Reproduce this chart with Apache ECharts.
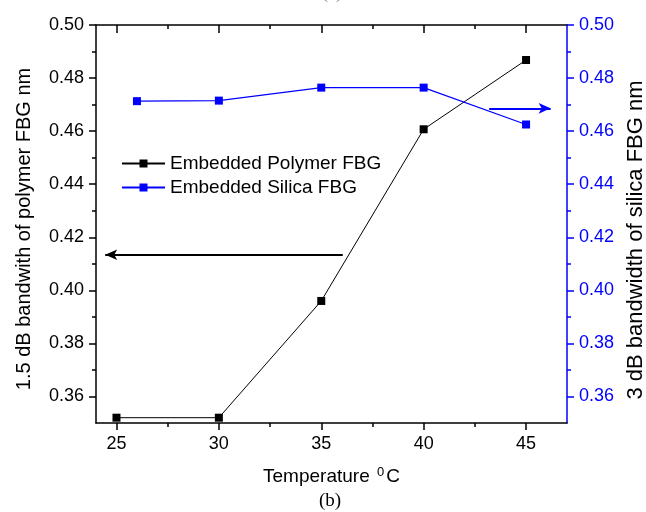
<!DOCTYPE html>
<html>
<head>
<meta charset="utf-8">
<script src="https://cdn.jsdelivr.net/npm/echarts@6/dist/echarts.min.js"></script>
<style>
  html, body { margin: 0; padding: 0; background: #fff; }
  #chart { width: 646px; height: 512px; }
</style>
</head>
<body>
<div id="chart"></div>
<script>
// Temperatures (°C) and measured bandwidths (nm)
const polymerTemps = [25, 30, 35, 40, 45];
const polymerWidth = [0.352, 0.352, 0.396, 0.4607, 0.4868];
const silicaTemps = [26, 30, 35, 40, 45];
const silicaWidth = [0.4713, 0.4715, 0.4764, 0.4764, 0.4625];

// Tick positions
const xMajor = [25, 30, 35, 40, 45];
const xMinor = [27.5, 32.5, 37.5, 42.5];
const yMajor = [0.36, 0.38, 0.40, 0.42, 0.44, 0.46, 0.48, 0.50];
const yMinor = [0.37, 0.39, 0.41, 0.43, 0.45, 0.47, 0.49];

// Arrows pointing each curve to its axis: [x0, x1, y]
const polymerArrow = [36.05, 24.45, 0.4134];
const silicaArrow = [43.2, 46.2, 0.4686];

const FONT = 'Liberation Sans, Arial, sans-serif';
const BLUE = '#0000ff';
const X_RANGE = { min: 24, max: 47 };
const Y_RANGE = { min: 0.35, max: 0.50 };

function pairs(xs, ys) { return xs.map((x, i) => [x, ys[i]]); }

function xAxisDef(position, ticks, len, inside, withLabels, withLine) {
  return {
    type: 'value', position, ...X_RANGE,
    axisLine: { show: withLine, onZero: false, lineStyle: { color: '#000', width: 1.5 } },
    axisTick: { show: true, inside, length: len, customValues: ticks, lineStyle: { color: '#000', width: 1.5 } },
    axisLabel: withLabels
      ? { show: true, customValues: ticks, fontSize: 18, fontFamily: FONT, color: '#000', margin: 12 }
      : { show: false },
    splitLine: { show: false }
  };
}

function yAxisDef(position, ticks, len, color, withLabels, withLine) {
  return {
    type: 'value', position, ...Y_RANGE,
    axisLine: { show: withLine, onZero: false, lineStyle: { color, width: 1.5 } },
    axisTick: { show: true, inside: false, length: len, customValues: ticks, lineStyle: { color, width: 1.5 } },
    axisLabel: withLabels
      ? { show: true, customValues: ticks, fontSize: 18, fontFamily: FONT, color, margin: 12,
          formatter: v => v.toFixed(2) }
      : { show: false },
    splitLine: { show: false }
  };
}

const xBottom = xAxisDef('bottom', xMajor, 7, false, true, true);
xBottom.name = '{a|Temperature }{s|0}{a|C}';
xBottom.nameLocation = 'middle';
xBottom.nameGap = 43;
xBottom.nameTextStyle = {
  rich: {
    a: { fontSize: 19, fontFamily: FONT, color: '#000', lineHeight: 22 },
    s: { fontSize: 13, fontFamily: FONT, color: '#000', lineHeight: 22, verticalAlign: 'top', padding: [0, 2, 9, 2] }
  }
};

const yLeft = yAxisDef('left', yMajor, 7, '#000', true, true);
yLeft.name = '1.5 dB bandwith of polymer FBG nm';
yLeft.nameLocation = 'middle';
yLeft.nameRotate = 90;
yLeft.nameGap = 62;
yLeft.nameTextStyle = { fontSize: 20, fontFamily: FONT, color: '#000', padding: [0, 10, 0, 0] };

const yRight = yAxisDef('right', yMajor, 7, BLUE, true, true);
yRight.name = '3 dB bandwidth of silica FBG nm';
yRight.nameLocation = 'middle';
yRight.nameRotate = 90;
yRight.nameGap = 55;
yRight.nameTextStyle = { fontSize: 22, fontFamily: FONT, color: '#000', padding: [0, 32, 0, 0] };

function arrowLine(a, color) {
  return {
    silent: true,
    symbol: ['none', 'arrow'],
    symbolSize: [8, 12],
    label: { show: false },
    lineStyle: { color, width: 2, type: 'solid' },
    data: [[{ coord: [a[0], a[2]] }, { coord: [a[1], a[2]] }]]
  };
}

const option = {
  animation: false,
  backgroundColor: '#fff',
  grid: { left: 96, right: 79, top: 25, bottom: 89, containLabel: false, outerBoundsMode: 'none' },
  legend: {
    orient: 'vertical',
    left: 121,
    top: 154,
    padding: 0,
    itemWidth: 43,
    itemHeight: 10,
    itemGap: 5,
    textStyle: { fontSize: 19, fontFamily: FONT, color: '#000' },
    data: ['Embedded Polymer FBG', 'Embedded Silica FBG']
  },
  xAxis: [
    xBottom,
    xAxisDef('top', xMajor, 8, true, false, true),
    xAxisDef('bottom', xMinor, 4, false, false, false),
    xAxisDef('top', xMinor, 4, true, false, false)
  ],
  yAxis: [
    yLeft,
    yRight,
    yAxisDef('left', yMinor, 4, '#000', false, false),
    yAxisDef('right', yMinor, 4, BLUE, false, false)
  ],
  series: [
    {
      name: 'Embedded Polymer FBG',
      type: 'line',
      xAxisIndex: 0, yAxisIndex: 0,
      data: pairs(polymerTemps, polymerWidth),
      symbol: 'rect', symbolSize: 8,
      itemStyle: { color: '#000' },
      lineStyle: { color: '#000', width: 1 },
      markLine: arrowLine(polymerArrow, '#000')
    },
    {
      name: 'Embedded Silica FBG',
      type: 'line',
      xAxisIndex: 0, yAxisIndex: 1,
      data: pairs(silicaTemps, silicaWidth),
      symbol: 'rect', symbolSize: 8,
      itemStyle: { color: BLUE },
      lineStyle: { color: BLUE, width: 1.2 },
      markLine: arrowLine(silicaArrow, BLUE)
    }
  ],
  graphic: [
    { type: 'text', left: 322, top: -16,
      style: { text: '(a)', font: '18px "Liberation Serif", serif', fill: '#777' } },
    { type: 'text', left: 319, top: 492,
      style: { text: '(b)', font: '19px "Liberation Serif", serif', fill: '#000' } }
  ]
};

const chart = echarts.init(document.getElementById('chart'), null, { renderer: 'canvas' });
chart.setOption(option);
</script>
</body>
</html>
